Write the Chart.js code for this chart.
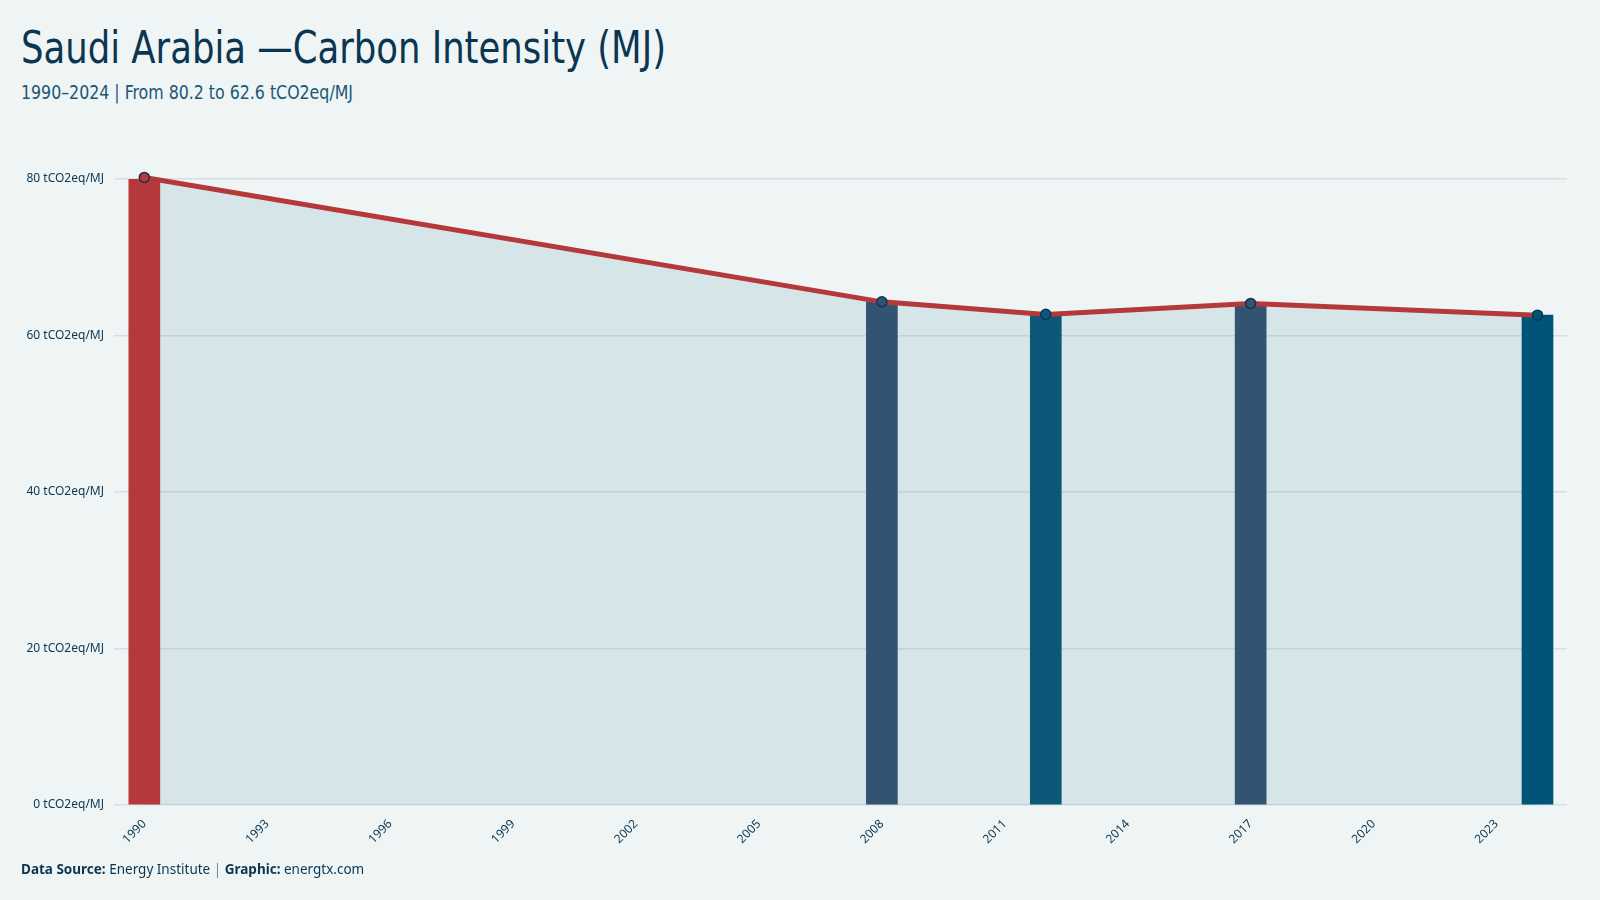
<!DOCTYPE html>
<html>
<head>
<meta charset="utf-8">
<script src="https://cdn.jsdelivr.net/npm/chart.js@4/dist/chart.umd.min.js"></script>
<style>
  html, body { margin: 0; padding: 0; background: #eff5f5; }
  body { width: 1600px; height: 900px; position: relative; overflow: hidden; }
  #title {
    position: absolute; left: 21px; top: 22px; margin: 0;
    font-family: "Ubuntu Condensed", "Liberation Sans Narrow", "DejaVu Sans Condensed", sans-serif;
    font-weight: normal; font-size: 45px; line-height: 52px; color: #0b3652;
    white-space: nowrap; transform-origin: left top;
  }
  #subtitle {
    position: absolute; left: 21px; top: 81px; margin: 0;
    font-family: "Ubuntu Condensed", "Liberation Sans Narrow", "DejaVu Sans Condensed", sans-serif;
    font-size: 19px; line-height: 22px; color: #1b5878; white-space: nowrap;
    transform-origin: left top;
  }
  #footer {
    position: absolute; left: 21px; top: 860px;
    font-family: "Noto Sans", "DejaVu Sans", sans-serif; font-size: 13.5px; color: #0b3652;
    white-space: nowrap;
  }
  #footer b { font-weight: bold; }
  #footer .sep { color: #6f8a99; }
  #wrap { position: absolute; left: 0; top: 0; width: 1600px; height: 900px; }
</style>
</head>
<body>
<div id="title">Saudi Arabia —Carbon Intensity (MJ)</div>
<div id="subtitle">1990–2024 | From 80.2 to 62.6 tCO2eq/MJ</div>
<div id="wrap"><canvas id="chart"></canvas></div>
<div id="footer"><b>Data Source:</b> Energy Institute <span class="sep">|</span> <b>Graphic:</b> energtx.com</div>

<script>
// Saudi Arabia carbon intensity, tCO2eq/MJ
const YEARS = [1990, 2008, 2012, 2017, 2024];
const VALUES = [80.2, 64.3, 62.7, 64.1, 62.6];
const BAR_COLORS = ['#b5393a', '#335372', '#0d5778', '#335372', '#005478'];
const X_TICKS = [1990, 1993, 1996, 1999, 2002, 2005, 2008, 2011, 2014, 2017, 2020, 2023];
const Y_TICKS = [0, 20, 40, 60, 80];

const TEXT = '#0b3652';
const points = YEARS.map((y, i) => ({ x: y, y: VALUES[i] }));

function fitWidth(id, target) {
  const el = document.getElementById(id);
  const w = el.getBoundingClientRect().width;
  if (w > 0) el.style.transform = `scaleX(${target / w})`;
}
fitWidth('title', 645);
fitWidth('subtitle', 332);

const tickFont = { family: '"Noto Sans", "DejaVu Sans", sans-serif', size: 12 };

new Chart(document.getElementById('chart'), {
  type: 'bar',
  data: {
    datasets: [
      {
        type: 'line',
        label: 'Line',
        data: points,
        borderColor: '#b5393a',
        borderWidth: 5,
        backgroundColor: 'rgba(0, 84, 120, 0.1)',
        fill: 'origin',
        tension: 0,
        pointRadius: 5,
        pointBorderWidth: 1.5,
        pointBorderColor: '#0b3652',
        pointBackgroundColor: BAR_COLORS,
        clip: false,
        order: 0,
      },
      {
        type: 'bar',
        label: 'Bars',
        data: points,
        backgroundColor: BAR_COLORS,
        barThickness: 31,
        order: 1,
      },
    ],
  },
  options: {
    responsive: true,
    maintainAspectRatio: false,
    animation: false,
    layout: { padding: { top: 179, right: 33, left: 0, bottom: 0 } },
    plugins: {
      legend: { display: false },
      tooltip: { enabled: false },
      filler: { drawTime: 'beforeDatasetsDraw' },
    },
    scales: {
      x: {
        type: 'linear',
        offset: false,
        min: 1989.26,
        max: 2024.72,
        afterBuildTicks: s => { s.ticks = X_TICKS.map(v => ({ value: v })); },
        afterFit: s => { s.height = 95; },
        grid: { display: false },
        border: { display: false },
        ticks: {
          color: TEXT, font: tickFont, minRotation: 45, maxRotation: 45, padding: 4,
          callback: v => String(v),
        },
      },
      y: {
        min: 0,
        max: 80,
        afterBuildTicks: s => { s.ticks = Y_TICKS.map(v => ({ value: v })); },
        afterFit: s => { s.width = 114; },
        grid: { color: '#d8dfe0', lineWidth: 1.5, drawTicks: false },
        border: { display: false },
        ticks: {
          color: TEXT, font: tickFont, padding: 10,
          callback: v => `${v} tCO2eq/MJ`,
        },
      },
    },
  },
});
</script>
</body>
</html>
